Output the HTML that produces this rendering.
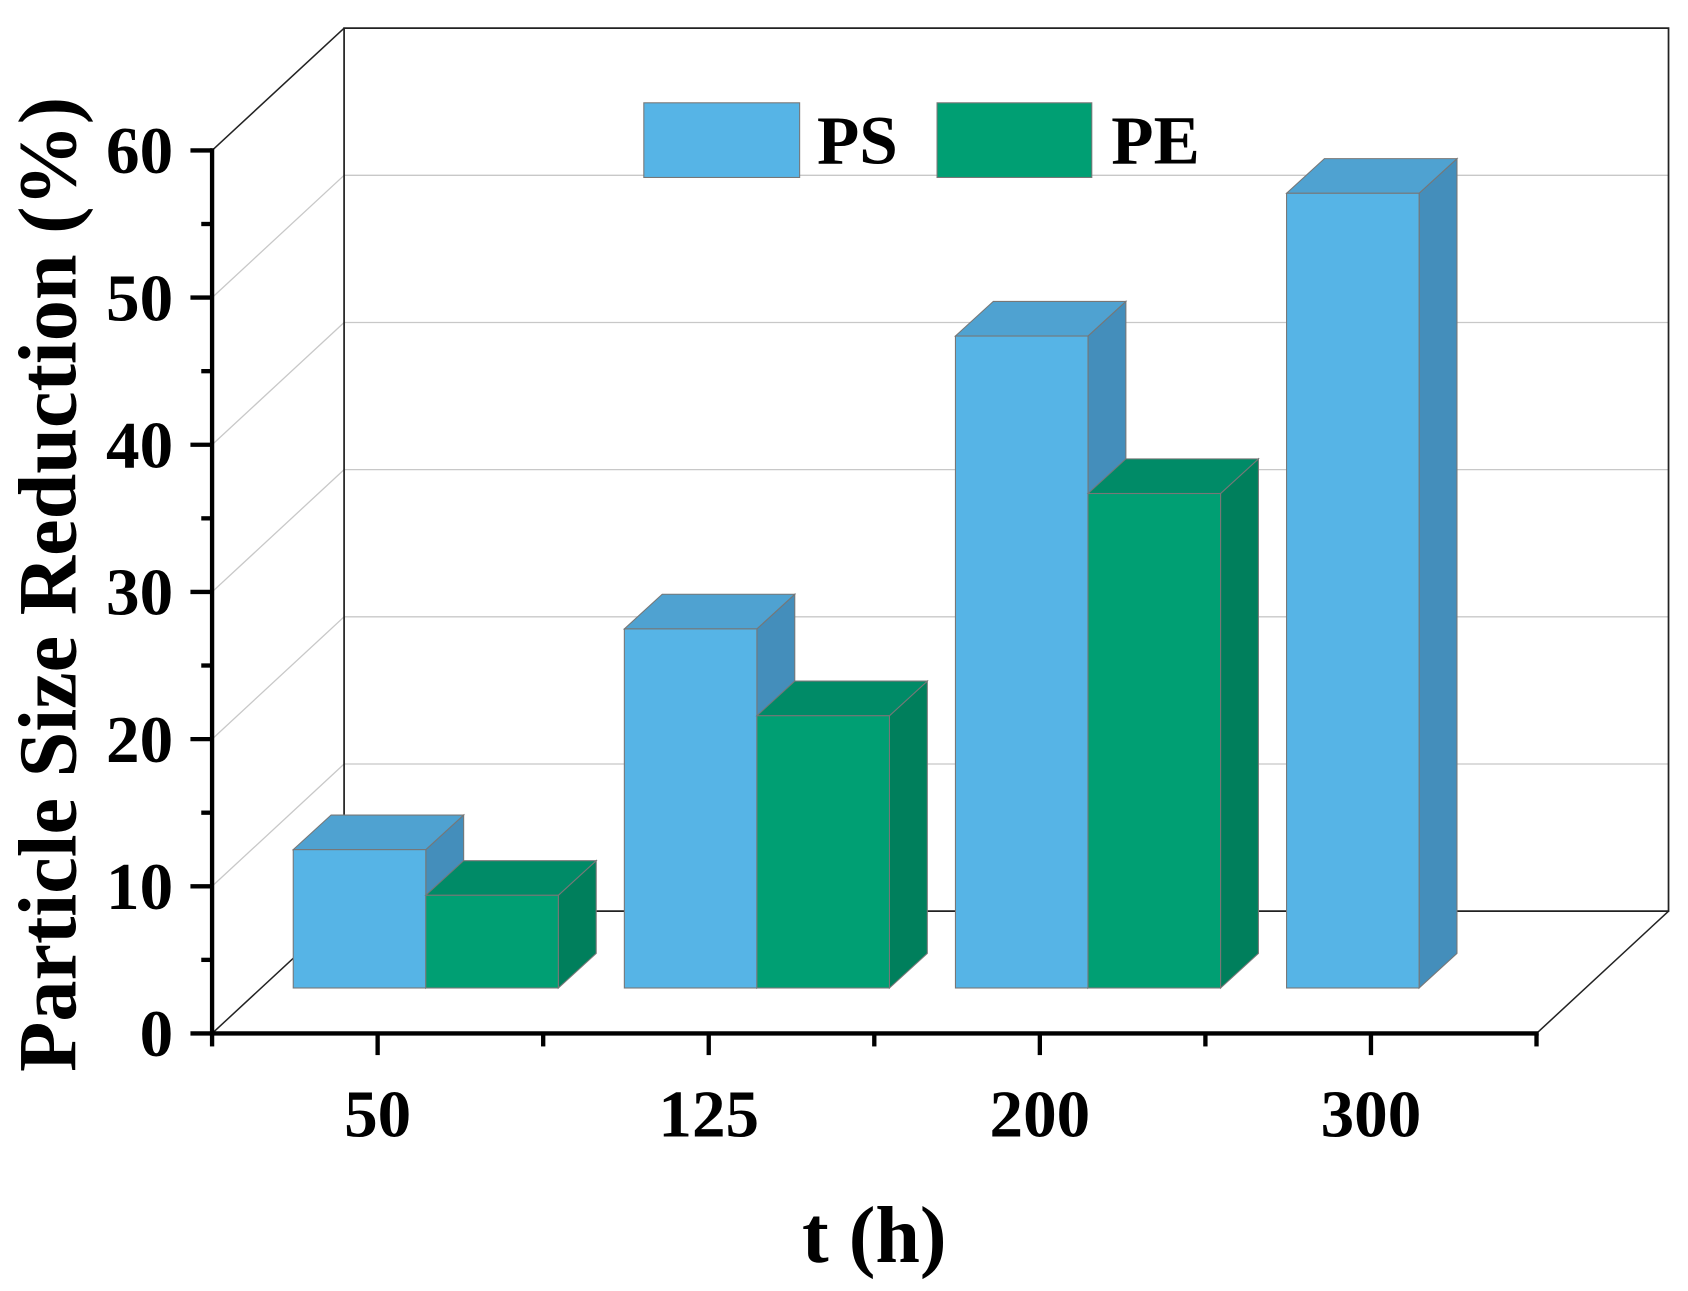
<!DOCTYPE html>
<html><head><meta charset="utf-8"><style>html,body{margin:0;padding:0;background:#fff}svg{display:block}svg text{font-family:"Liberation Serif","Times New Roman",serif;font-weight:bold}</style></head>
<body>
<svg id="chart" width="1688" height="1291" viewBox="0 0 1560 1193" preserveAspectRatio="none" xmlns="http://www.w3.org/2000/svg">
</svg>
<script>
const categories = ["50","125","200","300"];
const psValues = [9.4, 24.4, 44.3, 54.0];
const peValues = [6.3, 18.5, 33.6, null];
const yTicks = [0,10,20,30,40,50,60];
const yTickLabels = ["0","10","20","30","40","50","60"];

const svg = document.getElementById('chart');
const NS = 'http://www.w3.org/2000/svg';
function mk(tag, attrs, parent){ const e=document.createElementNS(NS,tag); for(const k in attrs) e.setAttribute(k,attrs[k]); (parent||svg).appendChild(e); return e; }

const X0=196, X1=1420, Y0=955, unit=13.6, DX=122, DY=-113;
function yFront(v){ return Y0 - v*unit; }
function yBack(v){ return Y0 + DY - v*unit; }
const groupW = (X1-X0)/categories.length;
function catCenter(i){ return X0 + groupW*(i+0.5); }
const barBase = 913, barW = 122.5, tdx = 35, tdy = -32;
function yBar(v){ return barBase - v*unit; }

const wall = mk('g',{});


yTicks.forEach((t,i)=>{
  if(t===0||t===60) return;
  const g = mk('line',{x1:X0+DX,y1:yBack(t),x2:X1+DX,y2:yBack(t),stroke:'#c8c8c8','stroke-width':1.2},wall);
  
  
  const d = mk('line',{x1:X0,y1:yFront(t),x2:X0+DX,y2:yBack(t),stroke:'#c8c8c8','stroke-width':1.2},wall);
  
  
});
mk('polyline',{points:`${X0+DX},${yBack(0)} ${X0+DX},${yBack(60)} ${X1+DX},${yBack(60)} ${X1+DX},${yBack(0)} ${X0+DX},${yBack(0)}`,fill:'none',stroke:'#222','stroke-width':1.6},wall);
mk('line',{x1:X0,y1:yFront(60),x2:X0+DX,y2:yBack(60),stroke:'#222','stroke-width':1.4},wall);
mk('line',{x1:X0,y1:Y0,x2:X0+DX,y2:yBack(0),stroke:'#222','stroke-width':1.4},wall);
mk('line',{x1:X1,y1:Y0,x2:X1+DX,y2:yBack(0),stroke:'#222','stroke-width':1.4},wall);

function box(x, v, cols, name){
  const g = mk('g',{});
  
  
  const yt = yBar(v);
  mk('polygon',{points:`${x+barW},${yt} ${x+barW+tdx},${yt+tdy} ${x+barW+tdx},${barBase+tdy} ${x+barW},${barBase}`,fill:cols[2],stroke:'#777','stroke-width':1},g);
  mk('polygon',{points:`${x},${yt} ${x+tdx},${yt+tdy} ${x+barW+tdx},${yt+tdy} ${x+barW},${yt}`,fill:cols[1],stroke:'#777','stroke-width':1},g);
  mk('rect',{x:x,y:yt,width:barW,height:barBase-yt,fill:cols[0],stroke:'#777','stroke-width':1},g);
}
const psCol=['#56b4e6','#4fa2d1','#448ebb'], peCol=['#009f73','#008b67','#007f5c'];
categories.forEach((c,i)=>{
  const left = catCenter(i) - 78;
  if(psValues[i]!=null) box(left, psValues[i], psCol, 'bar-ps-'+c);
  if(peValues[i]!=null) box(left+barW, peValues[i], peCol, 'bar-pe-'+c);
});

const ax = mk('g',{stroke:'#000','stroke-width':4,fill:'none'});


mk('line',{x1:X0,y1:yFront(60)-2,x2:X0,y2:Y0+2},ax);
mk('line',{x1:X0-2,y1:Y0,x2:X1+2,y2:Y0},ax);
yTicks.forEach((t,i)=>{
  mk('line',{x1:X0-20,y1:yFront(t),x2:X0,y2:yFront(t)},ax);
  if(i<yTicks.length-1) mk('line',{x1:X0-10,y1:yFront(t+5),x2:X0,y2:yFront(t+5)},ax);
  const lb = mk('text',{x:160,y:yFront(t)+21,'text-anchor':'end','font-size':62,fill:'#000',stroke:'none'});
  lb.textContent = yTickLabels[i];
  
  
});
for(let i=0;i<=categories.length;i++){
  mk('line',{x1:X0+groupW*i,y1:Y0,x2:X0+groupW*i,y2:Y0+12},ax);
}
categories.forEach((c,i)=>{
  mk('line',{x1:catCenter(i),y1:Y0,x2:catCenter(i),y2:Y0+20},ax);
  const lb = mk('text',{x:catCenter(i),y:1050,'text-anchor':'middle','font-size':62,fill:'#000',stroke:'none'});
  lb.textContent=c;
  
  
});

const xt = mk('text',{x:808,y:1166,'text-anchor':'middle','font-size':74});
xt.textContent='t (h)';


const yt = mk('text',{x:0,y:0,'text-anchor':'middle','font-size':76,transform:'translate(70,540) rotate(-90)'});
yt.textContent='Particle Size Reduction (%)';



const lg = mk('g',{});


const e1 = mk('g',{},lg);


mk('rect',{x:595,y:95,width:144,height:69,fill:psCol[0],stroke:'#777','stroke-width':1},e1);
const t1 = mk('text',{x:755,y:151,'font-size':64},e1); t1.textContent='PS';
const e2 = mk('g',{},lg);


mk('rect',{x:866,y:95,width:143,height:69,fill:peCol[0],stroke:'#777','stroke-width':1},e2);
const t2 = mk('text',{x:1027,y:151,'font-size':64},e2); t2.textContent='PE';
</script>
</body></html>
